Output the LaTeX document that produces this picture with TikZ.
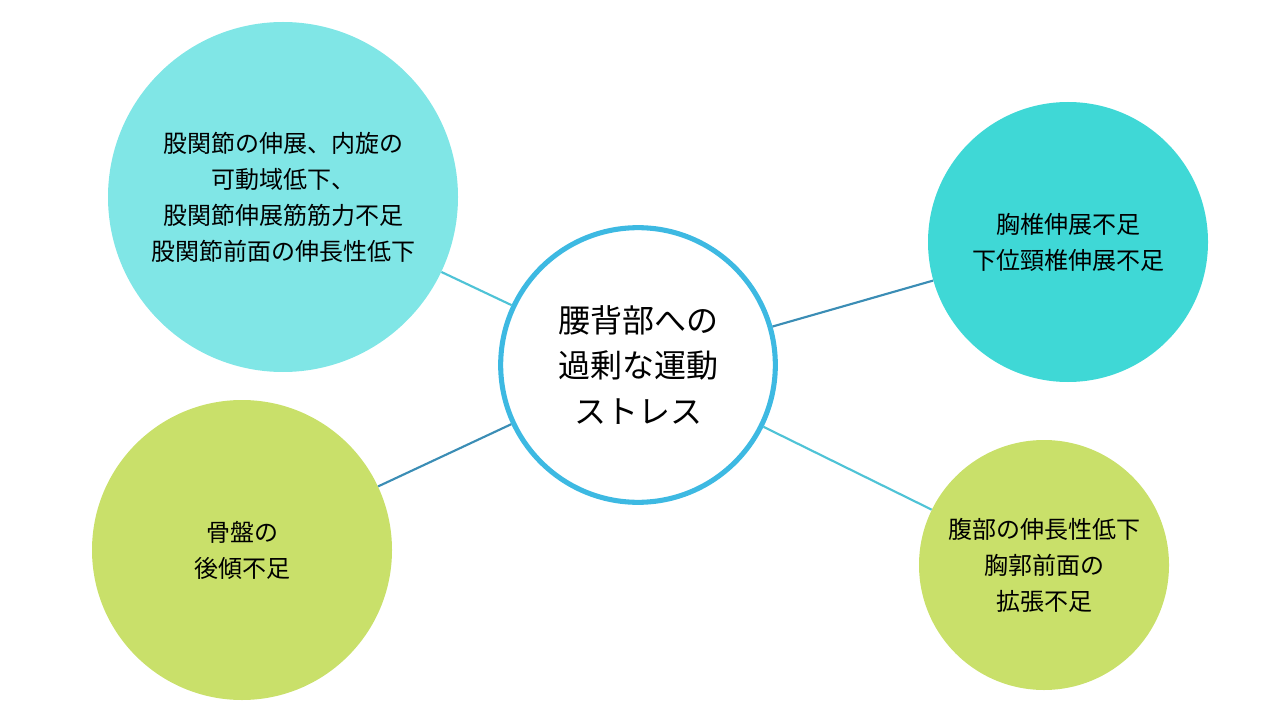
\documentclass[tikz,border=0pt]{standalone}
\usepackage{fontspec}
\setmainfont{Noto Sans CJK JP}
\begin{document}
\begin{tikzpicture}[x=0.75pt,y=-0.75pt,
  bub/.style={circle,inner sep=0pt,align=center,font=\fontsize{18}{27}\selectfont},
  conn/.style={line width=1.6pt,draw=#1}]
\useasboundingbox (0,0) rectangle (1280,720);
\definecolor{cA}{HTML}{80E6E6}
\definecolor{cB}{HTML}{C9E06A}
\definecolor{cC}{HTML}{3FD8D6}
\definecolor{cR}{HTML}{3DB9E2}
\definecolor{lnA}{HTML}{3B8DB5}
\definecolor{lnB}{HTML}{4FC3D6}
\node[bub,fill=cA,minimum size=262.5pt] (tl) at (283,197) {股関節の伸展、内旋の\\可動域低下、\\股関節伸展筋筋力不足\\股関節前面の伸長性低下};
\node[bub,fill=cB,minimum size=225pt] (bl) at (242,550) {骨盤の\\後傾不足};
\node[bub,fill=cC,minimum size=210pt] (tr) at (1068,242) {胸椎伸展不足\\下位頸椎伸展不足};
\node[bub,fill=cB,minimum size=187.5pt] (br) at (1044,565) {腹部の伸長性低下\\胸郭前面の\\拡張不足};
\node[bub,draw=cR,line width=3.8pt,fill=white,minimum size=206pt,font=\fontsize{24}{34}\selectfont] (c) at (638,365) {腰背部への\\過剰な運動\\ストレス};
\draw[conn=lnB] (tl) -- (c);
\draw[conn=lnA] (bl) -- (c);
\draw[conn=lnA] (tr) -- (c);
\draw[conn=lnB] (br) -- (c);
\end{tikzpicture}
\end{document}
